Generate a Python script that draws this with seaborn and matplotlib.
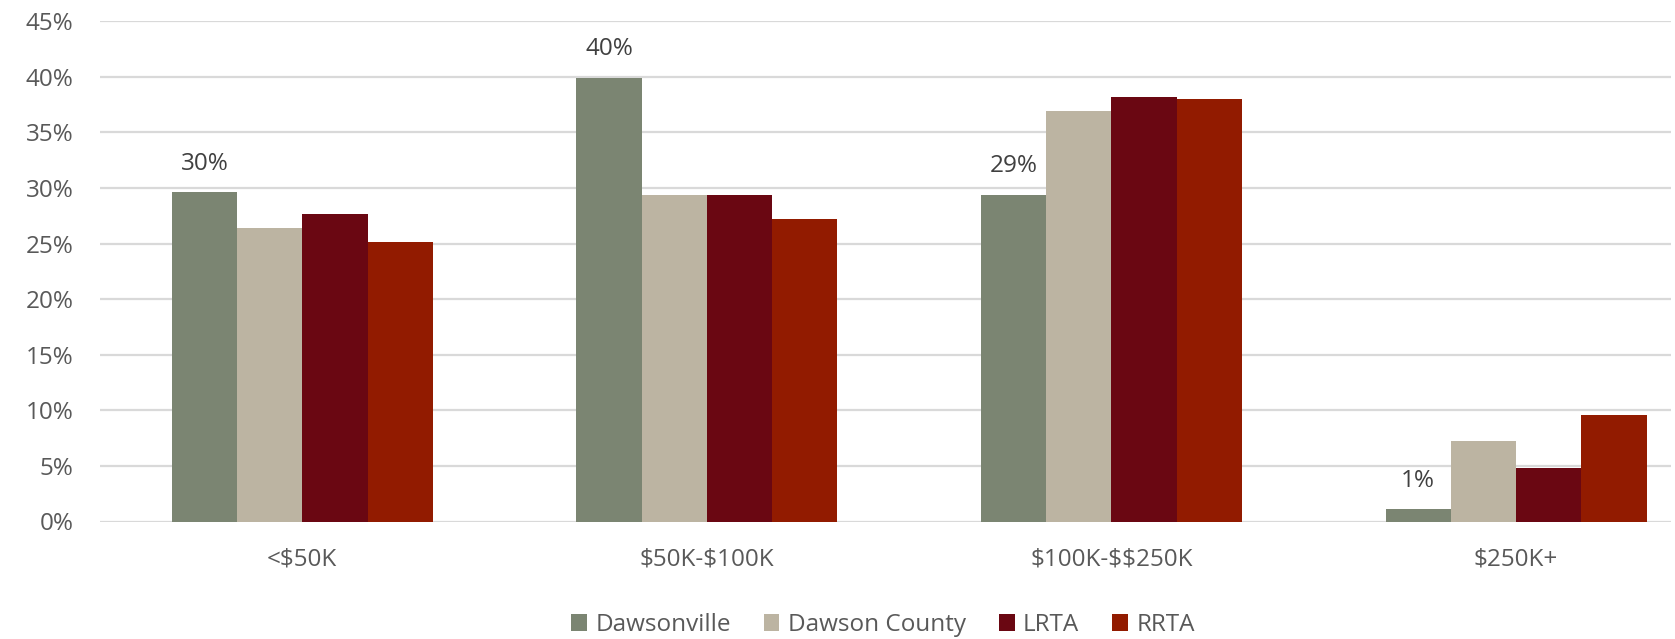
import matplotlib
matplotlib.use("Agg")
import matplotlib.pyplot as plt
import seaborn as sns
import pandas as pd

# Household income distribution by area (percent of households)
categories = ["<$50K", "$50K-$100K", "$100K-$$250K", "$250K+"]
series_names = ["Dawsonville", "Dawson County", "LRTA", "RRTA"]
dawsonville = [29.6, 39.9, 29.4, 1.1]
dawson_county = [26.4, 29.4, 36.9, 7.2]
lrta = [27.7, 29.4, 38.2, 4.8]
rrta = [25.1, 27.2, 38.0, 9.6]
y_ticks = [0, 5, 10, 15, 20, 25, 30, 35, 40, 45]

palette = ["#7B8572", "#BCB4A2", "#6A0712", "#921B00"]

rows = []
for name, vals in zip(series_names, [dawsonville, dawson_county, lrta, rrta]):
    for cat, v in zip(categories, vals):
        rows.append({"Income": cat, "Area": name, "Share": v})
df = pd.DataFrame(rows)

sns.set_theme(style="white")
plt.rcParams["font.family"] = ["Open Sans", "DejaVu Sans"]
plt.rcParams["text.parse_math"] = False

W, H = 1675, 639
top_px, bottom_px, left_px, right_px = 21.3, 521.5, 100, 1671
fig = plt.figure(figsize=(W / 100, H / 100), dpi=100)
ax = fig.add_axes([left_px / W, 1 - bottom_px / H,
                   (right_px - left_px) / W, (bottom_px - top_px) / H])

sns.barplot(
    data=df, x="Income", y="Share", hue="Area", order=categories,
    hue_order=series_names, palette=palette, width=0.645, gap=0,
    saturation=1, errorbar=None, ax=ax, edgecolor="none", linewidth=0,
)

ax.set_xlim(-0.5, 3.383)
ax.set_ylim(0, 45)
ax.set_yticks(y_ticks)
ax.set_yticklabels([f"{t}%" for t in y_ticks])
ax.yaxis.grid(True, color="#D9D9D9", linewidth=1.6)
ax.set_axisbelow(True)
for s in ax.spines.values():
    s.set_visible(False)
ax.set_xlabel("")
ax.set_ylabel("")
ax.tick_params(axis="y", length=0, pad=19, labelsize=17.5, labelcolor="#595959")
ax.tick_params(axis="x", length=0, pad=18.5, labelsize=17.5, labelcolor="#595959")

# Value labels on the Dawsonville bars only
first = ax.containers[0]
ax.bar_label(first, labels=[f"{v:.0f}%" for v in dawsonville], padding=12,
             fontsize=17.5, color="#404040")

handles, labels = ax.get_legend_handles_labels()
ax.legend_.remove()
fig.legend(
    handles, labels, loc="center", bbox_to_anchor=(883 / W, 1 - 625 / H),
    ncol=4, frameon=False, fontsize=17.5, labelcolor="#595959",
    handlelength=0.65, handleheight=0.65, handletextpad=0.35, columnspacing=1.35,
)

fig.savefig("out.png", dpi=100, facecolor="white")
